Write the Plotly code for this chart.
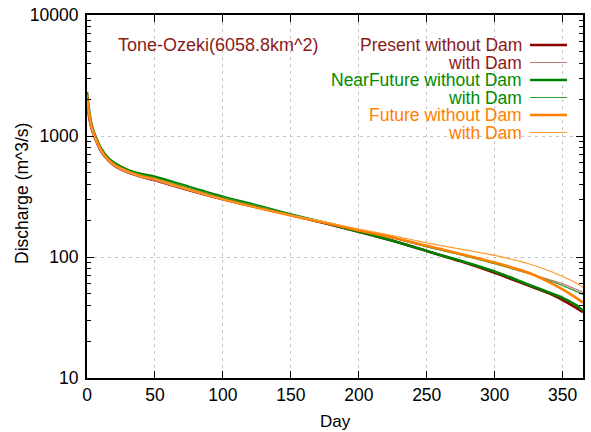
import plotly.graph_objects as go

days = [0, 1, 2, 3, 5, 7, 10, 15, 20, 30, 40, 50, 70, 100, 130, 150, 175, 200, 225, 250, 275, 300, 325, 340, 350, 360, 365]

present_without = [2000, 1600, 1350, 1200, 1020, 900, 760, 640, 570, 500, 460, 430, 370, 300, 250, 222, 190, 162, 136, 112, 92, 74, 58, 50, 44, 38, 35]
present_with = [1800, 1500, 1300, 1150, 990, 880, 750, 630, 560, 495, 455, 425, 368, 300, 250, 223, 193, 166, 144, 122, 105, 88, 73, 65, 60, 54, 51]
near_without = [2300, 1800, 1500, 1300, 1080, 950, 800, 670, 600, 525, 485, 460, 395, 315, 258, 225, 192, 162, 136, 112, 93, 76, 59, 51, 46, 40, 36]
near_with = [2100, 1700, 1450, 1250, 1050, 930, 780, 655, 590, 515, 478, 452, 390, 312, 257, 225, 195, 166, 144, 121, 104, 88, 73, 64, 58, 52, 49]
future_without = [2200, 1700, 1450, 1250, 1050, 920, 780, 650, 580, 510, 465, 440, 375, 300, 248, 220, 192, 166, 145, 124, 106, 90, 74, 62, 54, 46, 42]
future_with = [2000, 1600, 1400, 1220, 1030, 900, 770, 645, 575, 505, 462, 437, 373, 300, 248, 221, 195, 170, 150, 131, 116, 103, 88, 77, 69, 61, 56]

title_text = "Tone-Ozeki(6058.8km^2)"
legend_labels = ["Present without Dam", "with Dam", "NearFuture without Dam", "with Dam",
                 "Future without Dam", "with Dam"]
x_title = "Day"
y_title = "Discharge (m^3/s)"
x_ticks = [0, 50, 100, 150, 200, 250, 300, 350]
y_ticks = [10, 100, 1000, 10000]

series = [present_without, present_with, near_without, near_with, future_without, future_with]
line_colors = ["#8b0000", "#c07878", "#008000", "#2ca02c", "#ff7f00", "#ff9a30"]
text_colors = ["#8b1a1a", "#8b1a1a", "#008b00", "#008b00", "#ff8000", "#ff8000"]
widths = [2.6, 1.2, 2.6, 1.2, 2.6, 1.2]

FONT = "Liberation Sans, Arial, sans-serif"

fig = go.Figure()
for vals, col, w, lab in zip(series, line_colors, widths, legend_labels):
    fig.add_trace(go.Scatter(x=days, y=vals, mode="lines",
                             line=dict(color=col, width=w, shape="spline", smoothing=0.8),
                             name=lab, showlegend=False))

W, H = 591, 432
L, R, T, B = 87, 8, 15, 54
pw, ph = W - L - R, H - T - B

def px(x):
    return (x - L) / pw

def py(y):
    return (H - B - y) / ph

shapes = []
shapes.append(dict(type="rect", xref="paper", yref="paper", x0=px(135), x1=1, y0=py(140), y1=1,
                   fillcolor="white", line=dict(width=0), layer="between"))
annotations = []
annotations.append(dict(text=title_text, xref="paper", yref="paper", x=px(117), y=py(45),
                        xanchor="left", yanchor="middle", showarrow=False, borderpad=0,
                        font=dict(family=FONT, size=18, color="#8b1a1a")))
row_y = [45, 62.5, 80, 97.5, 115, 132.5]
for lab, tc, lc, w, yy in zip(legend_labels, text_colors, line_colors, widths, row_y):
    annotations.append(dict(text=lab, xref="paper", yref="paper", x=px(523), y=py(yy),
                            xanchor="right", yanchor="middle", showarrow=False, borderpad=0,
                            font=dict(family=FONT, size=17.5, color=tc)))
    shapes.append(dict(type="line", xref="paper", yref="paper", x0=px(530), x1=px(567),
                       y0=py(yy), y1=py(yy), line=dict(color=lc, width=w), layer="above"))

annotations.append(dict(text=x_title, xref="paper", yref="paper", x=px(335), y=py(422),
                        xanchor="center", yanchor="middle", showarrow=False,
                        font=dict(family=FONT, size=17, color="black")))
annotations.append(dict(text=y_title, xref="paper", yref="paper", x=px(22), y=py(194),
                        xanchor="center", yanchor="middle", showarrow=False, textangle=-90,
                        font=dict(family=FONT, size=17.5, color="black")))

minor_vals = [m * 10 ** e for e in range(1, 4) for m in range(2, 10)]

fig.update_layout(
    width=W, height=H,
    margin=dict(l=L, r=R, t=T, b=B),
    paper_bgcolor="white", plot_bgcolor="white",
    font=dict(family=FONT, size=17, color="black"),
    shapes=shapes, annotations=annotations,
    xaxis=dict(range=[0, 365], tickmode="array", tickvals=x_ticks,
               ticks="inside", ticklen=7, tickwidth=1, tickcolor="black",
               showline=True, linecolor="black", linewidth=2, mirror="ticks",
               showgrid=True, gridcolor="#c4c4c4", griddash="3px,4px", gridwidth=1,
               zeroline=False, automargin=False,
               tickfont=dict(size=17.5)),
    yaxis=dict(type="log", range=[1, 4], tickmode="array", tickvals=y_ticks,
               ticktext=[str(v) for v in y_ticks],
               ticks="inside", ticklen=7, tickwidth=1, tickcolor="black",
               minor=dict(tickmode="array", tickvals=minor_vals, ticks="inside", ticklen=4,
                          tickcolor="black", showgrid=False),
               showline=True, linecolor="black", linewidth=2, mirror="ticks",
               showgrid=True, gridcolor="#c4c4c4", griddash="3px,4px", gridwidth=1,
               zeroline=False, automargin=False, ticklabelstandoff=3,
               tickfont=dict(size=17.5)),
)

fig.write_html("out.html", config={"displayModeBar": False},
               post_script="document.body.style.margin='0';document.body.style.overflow='hidden';")
